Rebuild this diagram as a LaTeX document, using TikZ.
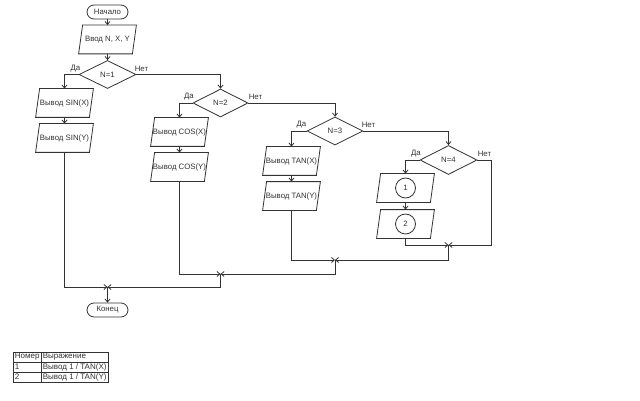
\documentclass[tikz,border=0pt]{standalone}
\usepackage{fontspec}
\setmainfont{Liberation Sans}
\usetikzlibrary{shapes.geometric,arrows.meta}
\newcommand\plgram[1]{\draw ([xshift=4pt]#1.north west) -- (#1.north east) -- ([xshift=-4pt]#1.south east) -- (#1.south west) -- cycle;}
\begin{document}
\begin{tikzpicture}[x=1pt,y=-1pt,line width=0.8pt,color=black!80,
  every node/.style={font=\fontsize{7.8}{9}\selectfont},
  term/.style={draw,rectangle,rounded corners=7pt,minimum width=41pt,minimum height=14pt,inner sep=0pt},
  pbox/.style={minimum width=57pt,minimum height=28pt,inner sep=0pt},
  dec/.style={draw,diamond,minimum width=57pt,minimum height=28pt,inner sep=0pt},
  circ/.style={draw,circle,minimum size=20pt,inner sep=0pt},
  lbl/.style={inner sep=0pt},
  cell/.style={inner sep=0pt,anchor=west,font=\fontsize{8}{9}\selectfont},
  arr/.style={-{Straight Barb[length=3pt,width=5pt]}}]
\useasboundingbox[fill=white] (0,0) rectangle (640,401);

% nodes
\node[term] (start) at (107.5,12) {Начало};
\node[pbox] (inp) at (107.5,39.5) {Ввод N, X, Y}; \plgram{inp}
\node[dec] (d1) at (107.5,74.5) {N=1};
\node[pbox] (sinx) at (64.5,103) {Вывод SIN(X)}; \plgram{sinx}
\node[pbox] (siny) at (64.5,138) {Вывод SIN(Y)}; \plgram{siny}
\node[dec,minimum width=55pt] (d2) at (220.5,103) {N=2};
\node[pbox,minimum width=57pt] (cosx) at (179.5,132) {Вывод COS(X)}; \plgram{cosx}
\node[pbox,minimum width=57pt] (cosy) at (179.5,167) {Вывод COS(Y)}; \plgram{cosy}
\node[dec,minimum width=56pt] (d3) at (335,131) {N=3};
\node[pbox] (tanx) at (291.5,161) {Вывод TAN(X)}; \plgram{tanx}
\node[pbox] (tany) at (291.5,196) {Вывод TAN(Y)}; \plgram{tany}
\node[dec,minimum height=29pt] (d4) at (448.5,160) {N=4};
\node[pbox] (b1) at (405.5,188) {}; \plgram{b1}
\node[circ] (c1) at (b1) {1};
\node[pbox] (b2) at (405.5,224) {}; \plgram{b2}
\node[circ] (c2) at (b2) {2};
\node[term] (end) at (107.5,310) {Конец};

% labels
\node[lbl] (y1) at (75.5,69) {Да};
\node[lbl] (n1) at (141.5,69) {Нет};
\node[lbl] (y2) at (189,97) {Да};
\node[lbl] (n2) at (255.5,97) {Нет};
\node[lbl] (y3) at (301.5,125) {Да};
\node[lbl] (n3) at (368.5,125) {Нет};
\node[lbl] (y4) at (416,154) {Да};
\node[lbl] (n4) at (484.5,154) {Нет};

% junctions
\coordinate (j4) at (448.5,245);
\coordinate (r4) at (491,245);
\coordinate (j3) at (335,260);
\coordinate (j2) at (220.5,274);
\coordinate (j1) at (107.5,287);

% connectors
\draw[arr] (start) -- (inp);
\draw[arr] (inp) -- (d1);
\draw[arr] (d1.west) -| (sinx.north);
\draw[arr] (sinx) -- (siny);
\draw[arr] (d1.east) -| (d2.north);
\draw[arr] (d2.west) -| (cosx.north);
\draw[arr] (cosx) -- (cosy);
\draw[arr] (d2.east) -| (d3.north);
\draw[arr] (d3.west) -| (tanx.north);
\draw[arr] (tanx) -- (tany);
\draw[arr] (d3.east) -| (d4.north);
\draw[arr] (d4.west) -| (b1.north);
\draw[arr] (b1) -- (b2);
\draw[arr] (d4.east) -| (r4) -- (j4);
\draw[arr] (b2.south) |- (j4);
\draw[arr] (j4) |- (j3);
\draw[arr] (tany.south) |- (j3);
\draw[arr] (j3) |- (j2);
\draw[arr] (cosy.south) |- (j2);
\draw[arr] (j2) |- (j1);
\draw[arr] (siny.south) |- (j1);
\draw[arr] (j1) -- (end);

% table
\draw[line width=0.7pt] (13,352) rectangle (108,382);
\draw[line width=0.7pt] (41,352) -- (41,382);
\draw[line width=0.7pt] (13,362) -- (108,362);
\draw[line width=0.7pt] (13,372) -- (108,372);
\node[cell] (t11) at (14.5,357) {Номер};
\node[cell] (t12) at (42.5,357) {Выражение};
\node[cell] (t21) at (14.5,367) {1};
\node[cell] (t22) at (42.5,367) {Вывод 1 / TAN(X)};
\node[cell] (t31) at (14.5,377) {2};
\node[cell] (t32) at (42.5,377) {Вывод 1 / TAN(Y)};
\end{tikzpicture}
\end{document}
